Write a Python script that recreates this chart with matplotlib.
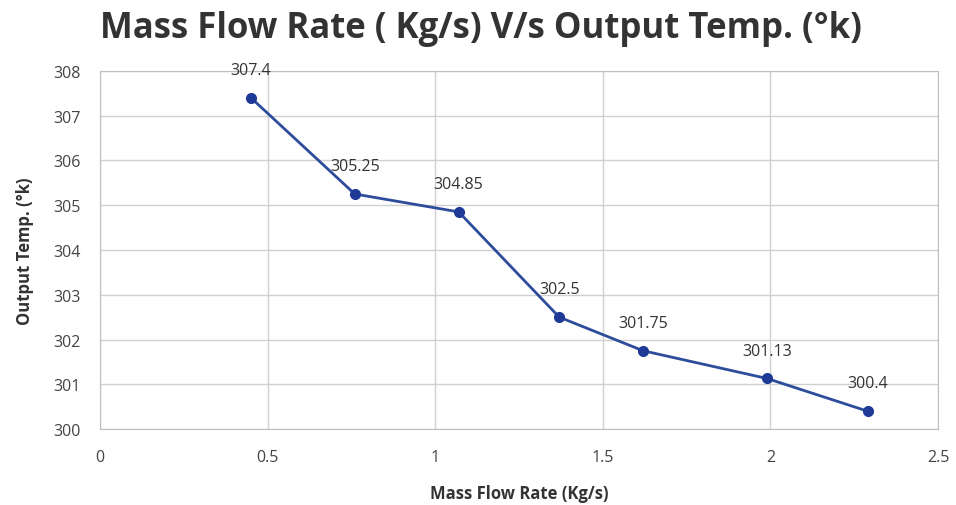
import matplotlib
matplotlib.use("Agg")
import matplotlib.pyplot as plt

mass_flow = [0.45, 0.76, 1.07, 1.37, 1.62, 1.99, 2.29]
output_temp = [307.4, 305.25, 304.85, 302.5, 301.75, 301.13, 300.4]
point_labels = ["307.4", "305.25", "304.85", "302.5", "301.75", "301.13", "300.4"]
x_ticks = [0, 0.5, 1, 1.5, 2, 2.5]
x_tick_labels = ["0", "0.5", "1", "1.5", "2", "2.5"]
y_ticks = [300, 301, 302, 303, 304, 305, 306, 307, 308]

plt.rcParams['font.family'] = ['Open Sans', 'DejaVu Sans']

fig = plt.figure(figsize=(9.56, 5.06), dpi=100)
ax = fig.add_axes([0.1046, 0.150, 0.8766, 0.708])

ax.plot(mass_flow, output_temp, color='#2E4C9C', linewidth=2, marker='o',
        markersize=7, markerfacecolor='#1F3A96', markeredgecolor='#1F3A96', zorder=3)

for x, y, lab in zip(mass_flow, output_temp, point_labels):
    ax.annotate(lab, (x, y), xytext=(0, 20), textcoords='offset points',
                ha='center', va='center', fontsize=11.5, color='#333333')

ax.set_xlim(0, 2.5)
ax.set_ylim(300, 308)
ax.set_xticks(x_ticks)
ax.set_xticklabels(x_tick_labels)
ax.set_yticks(y_ticks)
ax.grid(True, color='#D0D0D0', linewidth=1)
ax.set_axisbelow(True)
for s in ax.spines.values():
    s.set_color('#BFBFBF')
ax.tick_params(length=0, labelsize=11.5, labelcolor='#444444')
ax.tick_params(axis='x', pad=14)
ax.tick_params(axis='y', pad=14)

ax.set_xlabel('Mass Flow Rate (Kg/s)', fontsize=12, fontweight='bold', color='#333333', labelpad=14)
ax.set_ylabel('Output Temp. (°k)', fontsize=12, fontweight='bold', color='#333333', labelpad=14)

fig.text(0.503, 0.942, 'Mass Flow Rate ( Kg/s) V/s Output Temp. (°k)', ha='center', va='center',
         fontsize=25, fontweight='bold', color='#333333')

fig.savefig('out.png', dpi=100)
